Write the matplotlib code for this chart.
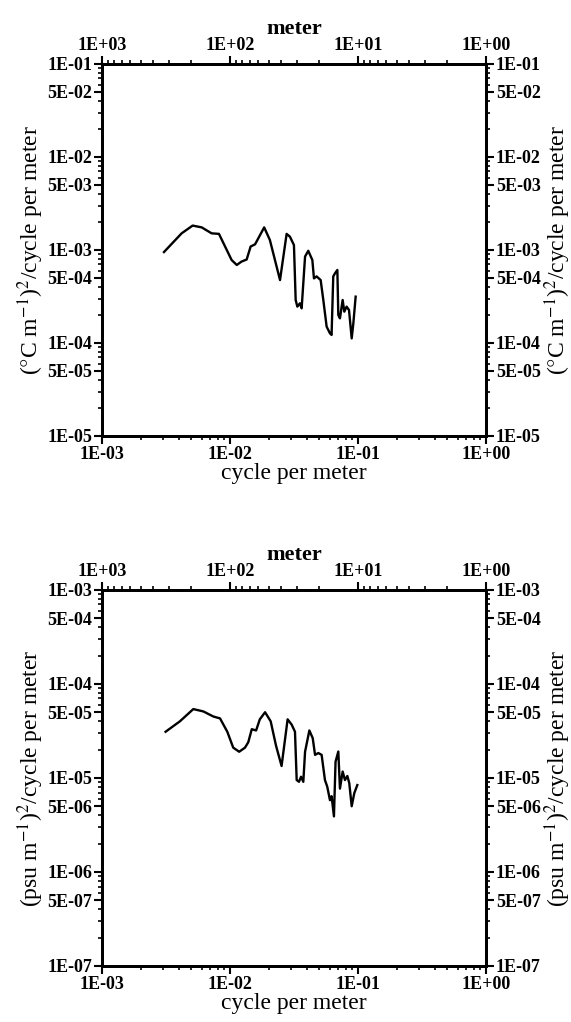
import matplotlib.pyplot as plt

plt.rcParams['font.family'] = ['Liberation Serif', 'DejaVu Serif']
plt.rcParams['mathtext.fontset'] = 'stix'

# temperature gradient spectrum (top panel)
freq_t = [3.05e-3, 4.19e-3, 5.11e-3, 6.01e-3, 7.19e-3, 8.20e-3, 1.03e-2, 1.13e-2,
          1.23e-2, 1.35e-2, 1.45e-2, 1.57e-2, 1.85e-2, 2.05e-2, 2.46e-2, 2.77e-2,
          2.94e-2, 3.16e-2, 3.26e-2, 3.36e-2, 3.52e-2, 3.63e-2, 3.86e-2, 4.09e-2,
          4.40e-2, 4.53e-2, 4.75e-2, 5.11e-2, 5.36e-2, 5.69e-2, 6.04e-2, 6.22e-2,
          6.41e-2, 6.61e-2, 6.90e-2, 7.02e-2, 7.23e-2, 7.59e-2, 7.82e-2, 8.15e-2,
          8.51e-2, 8.93e-2, 9.20e-2, 9.59e-2]
spec_t = [9.5e-4, 1.51e-3, 1.83e-3, 1.75e-3, 1.51e-3, 1.49e-3, 7.8e-4, 6.9e-4,
          7.5e-4, 7.9e-4, 1.09e-3, 1.15e-3, 1.75e-3, 1.28e-3, 4.75e-4, 1.49e-3,
          1.39e-3, 1.13e-3, 2.9e-4, 2.46e-4, 2.67e-4, 2.36e-4, 8.5e-4, 9.8e-4,
          7.8e-4, 4.95e-4, 5.2e-4, 4.75e-4, 2.9e-4, 1.5e-4, 1.27e-4, 1.22e-4,
          5.2e-4, 5.6e-4, 6.1e-4, 2.0e-4, 1.84e-4, 2.9e-4, 2.17e-4, 2.46e-4,
          2.26e-4, 1.12e-4, 1.63e-4, 3.15e-4]

# salinity gradient spectrum (bottom panel)
freq_s = [3.14e-3, 4.06e-3, 5.17e-3, 6.19e-3, 7.42e-3, 8.36e-3, 9.53e-3, 1.06e-2,
          1.18e-2, 1.31e-2, 1.39e-2, 1.48e-2, 1.60e-2, 1.71e-2, 1.88e-2, 2.08e-2,
          2.29e-2, 2.53e-2, 2.82e-2, 3.03e-2, 3.22e-2, 3.32e-2, 3.46e-2, 3.59e-2,
          3.74e-2, 3.86e-2, 4.17e-2, 4.43e-2, 4.62e-2, 4.90e-2, 5.20e-2, 5.52e-2,
          5.75e-2, 6.04e-2, 6.22e-2, 6.49e-2, 6.68e-2, 7.02e-2, 7.23e-2, 7.59e-2,
          7.91e-2, 8.26e-2, 8.55e-2, 8.93e-2, 9.36e-2, 9.88e-2]
spec_s = [3.1e-5, 4.0e-5, 5.4e-5, 5.1e-5, 4.5e-5, 4.3e-5, 3.1e-5, 2.1e-5,
          1.9e-5, 2.1e-5, 2.4e-5, 3.3e-5, 3.2e-5, 4.2e-5, 5.0e-5, 4.0e-5,
          2.2e-5, 1.34e-5, 4.2e-5, 3.7e-5, 3.1e-5, 9.5e-6, 9.1e-6, 1.03e-5,
          9.1e-6, 1.9e-5, 3.2e-5, 2.65e-5, 1.76e-5, 1.84e-5, 1.76e-5, 9.5e-6,
          8.1e-6, 5.8e-6, 6.4e-6, 3.9e-6, 1.49e-5, 1.91e-5, 7.7e-6, 1.17e-5,
          9.5e-6, 1.05e-5, 8.8e-6, 5.0e-6, 6.9e-6, 8.4e-6]

xticks = [1e-3, 1e-2, 1e-1, 1e0]
meter_ticks = [1e3, 1e2, 1e1, 1e0]
yticks_t = [1e-5, 5e-5, 1e-4, 5e-4, 1e-3, 5e-3, 1e-2, 5e-2, 1e-1]
yticks_s = [1e-7, 5e-7, 1e-6, 5e-6, 1e-5, 5e-5, 1e-4, 5e-4, 1e-3]

label_t = r'($\degree$C m$^{-1}$)$^2$/cycle per meter'
label_s = r'(psu m$^{-1}$)$^2$/cycle per meter'

tick_kw = dict(fontsize=13, fontweight='bold')


def fmt(v):
    return format(v, '.0E')


def style(a):
    a.tick_params(which='major', length=6, width=1.5, pad=1)
    a.tick_params(which='minor', length=3, width=1.2)
    for s in a.spines.values():
        s.set_linewidth(2)


def panel(rect, f, s, yticks, ylabel):
    ax = fig.add_axes(rect)
    ax.loglog(f, s, color='black', lw=1.7)
    ax.set_xlim(1e-3, 1)
    ax.set_ylim(yticks[0], yticks[-1])
    ax.set_xticks(xticks, [fmt(v) for v in xticks], **tick_kw)
    ax.set_yticks(yticks, [fmt(v) for v in yticks], **tick_kw)
    ax.set_xlabel('cycle per meter', fontsize=17, labelpad=0)
    ax.set_ylabel(ylabel, fontsize=17, labelpad=1)
    style(ax)

    # right axis, same scale
    axr = ax.twinx()
    axr.set_yscale('log')
    axr.set_ylim(yticks[0], yticks[-1])
    axr.set_yticks(yticks, [fmt(v) for v in yticks], **tick_kw)
    axr.set_ylabel(ylabel, fontsize=17, labelpad=1)
    style(axr)

    # top axis in meters
    axt = ax.twiny()
    axt.set_xscale('log')
    axt.set_xlim(1e-3, 1)
    axt.set_xticks([1 / m for m in meter_ticks], [fmt(m) for m in meter_ticks], **tick_kw)
    minor = [1 / (k * 10 ** n) for n in range(0, 3) for k in range(2, 10)]
    axt.set_xticks(minor, minor=True)
    axt.set_xticklabels([], minor=True)
    axt.set_xlabel('meter', fontsize=16, fontweight='bold', labelpad=2)
    style(axt)
    return ax


fig = plt.figure(figsize=(5.71, 10.22), dpi=100)
panel([0.1786, 0.5734, 0.6725, 0.364], freq_t, spec_t, yticks_t, label_t)
panel([0.1786, 0.0548, 0.6725, 0.368], freq_s, spec_s, yticks_s, label_s)

fig.savefig('out.png', dpi=100, facecolor='white')
